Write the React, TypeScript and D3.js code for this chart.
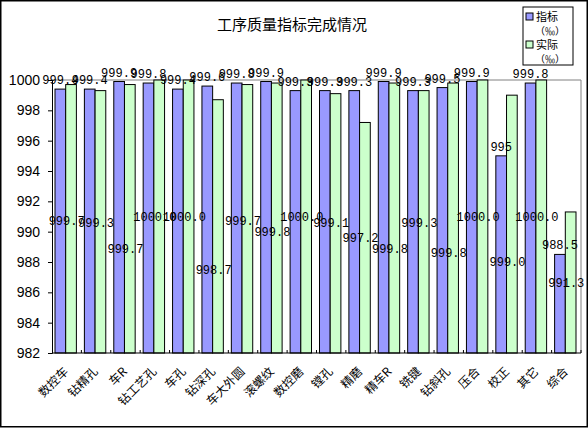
import React, { useEffect, useRef } from 'react';
import * as d3 from 'd3';

// 工序名称
const categories = [
  '数控车', '钻精孔', '车R', '钻工艺孔', '车孔', '钻深孔', '车大外圆', '滚螺纹', '数控磨',
  '镗孔', '精磨', '精车R', '铣键', '钻斜孔', '压合', '校正', '其它', '综合',
];

// 指标 (‰)
const targetValues = [
  999.4, 999.4, 999.9, 999.8, 999.4, 999.6, 999.8, 999.9, 999.3,
  999.3, 999.3, 999.9, 999.3, 999.5, 999.9, 995, 999.8, 988.5,
];

// 实际 (‰)
const actualValues = [
  999.7, 999.3, 999.7, 1000.0, 1000.0, 998.7, 999.7, 999.8, 1000.0,
  999.1, 997.2, 999.8, 999.3, 999.8, 1000.0, 999.0, 1000.0, 991.3,
];

// where the 实际 labels were dragged to in the original sheet, in axis units
const actualLabelAt = [
  990.7, 990.6, 988.9, 991.0, 991.0, 987.5, 990.7, 990.0, 991.0,
  990.6, 989.6, 988.9, 990.6, 988.6, 991.0, 988.0, 991.0, 986.6,
];

const yTicks = [982, 984, 986, 988, 990, 992, 994, 996, 998, 1000];

const seriesNames = ['指标', '实际'];
const seriesColors = ['#9999FF', '#CCFFCC'];

const Chart: React.FC = () => {
  const svgRef = useRef<SVGSVGElement | null>(null);

  useEffect(() => {
    if (!svgRef.current) return;

    const width = 588;
    const height = 429;
    const margin = { top: 80, right: 7, bottom: 76, left: 52 };

    const svg = d3.select(svgRef.current)
      .attr('width', width)
      .attr('height', height)
      .attr('viewBox', `0 0 ${width} ${height}`);

    svg.selectAll('*').remove();

    const x = d3.scaleBand<string>()
      .domain(categories)
      .range([margin.left, width - margin.right]);

    const xInner = d3.scaleBand<string>()
      .domain(seriesNames)
      .range([3, x.bandwidth() - 5]);

    const y = d3.scaleLinear()
      .domain([982, 1000])
      .range([height - margin.bottom, margin.top]);

    // outer frame
    svg.append('rect')
      .attr('x', 0.75).attr('y', 0.75)
      .attr('width', width - 1.5).attr('height', 426)
      .attr('fill', '#fff').attr('stroke', '#000').attr('stroke-width', 1.5);

    // title
    svg.append('text')
      .attr('x', 292).attr('y', 30)
      .attr('text-anchor', 'middle')
      .attr('font-family', '"Noto Sans CJK SC", sans-serif')
      .attr('font-size', 15)
      .text('工序质量指标完成情况');

    // plot area border (top / right)
    svg.append('path')
      .attr('d', `M${margin.left},${y(1000)}H${width - margin.right}V${y(982)}`)
      .attr('fill', 'none').attr('stroke', '#808080');

    const rows = categories.map((c, i) => ({
      c,
      vals: [targetValues[i], actualValues[i]],
    }));

    // bars
    const groups = svg.append('g').selectAll('g')
      .data(rows)
      .join('g')
      .attr('transform', d => `translate(${x(d.c)},0)`);

    groups.selectAll('rect')
      .data(d => d.vals.map((v, k) => ({ v, k })))
      .join('rect')
      .attr('x', d => xInner(seriesNames[d.k])!)
      .attr('y', d => y(d.v))
      .attr('width', xInner.bandwidth())
      .attr('height', d => y(982) - y(d.v))
      .attr('fill', d => seriesColors[d.k])
      .attr('stroke', '#000')
      .attr('stroke-width', 1);

    // axes
    const yAxis = svg.append('g')
      .attr('transform', `translate(${margin.left},0)`)
      .call(d3.axisLeft(y).tickValues(yTicks).tickSize(4).tickFormat(d3.format('d')));
    yAxis.select('.domain').attr('stroke', '#000');
    yAxis.selectAll('text')
      .attr('font-family', '"Liberation Sans", Arial, sans-serif')
      .attr('font-size', 14)
      .attr('fill', '#000')
      .attr('x', -12);

    const xAxis = svg.append('g')
      .attr('transform', `translate(0,${y(982)})`);
    xAxis.append('line')
      .attr('x1', margin.left).attr('x2', width - margin.right)
      .attr('stroke', '#000');
    xAxis.selectAll('line.tick')
      .data(categories)
      .join('line')
      .attr('class', 'tick')
      .attr('x1', d => x(d)! + x.step())
      .attr('x2', d => x(d)! + x.step())
      .attr('y1', 0).attr('y2', -3)
      .attr('stroke', '#000');

    // category labels, rotated
    svg.append('g').selectAll('text')
      .data(categories)
      .join('text')
      .attr('transform', d => `translate(${x(d)! + x.bandwidth() / 2 - 4},${y(982) + 13}) rotate(-45)`)
      .attr('text-anchor', 'end')
      .attr('dy', '0.75em')
      .attr('font-family', '"Noto Sans CJK SC", sans-serif')
      .attr('font-size', 12)
      .text(d => d);

    // value labels
    const labelFont = '"Liberation Mono", "DejaVu Sans Mono", monospace';
    svg.append('g').selectAll('text')
      .data(rows)
      .join('text')
      .attr('x', d => x(d.c)! + xInner(seriesNames[0])! + xInner.bandwidth() / 2)
      .attr('y', d => y(d.vals[0]) - 5)
      .attr('text-anchor', 'middle')
      .attr('font-family', labelFont)
      .attr('font-size', 12)
      .text(d => String(d.vals[0]));

    svg.append('g').selectAll('text')
      .data(rows)
      .join('text')
      .attr('x', d => x(d.c)! + x.bandwidth() / 2)
      .attr('y', (_, i) => y(actualLabelAt[i]))
      .attr('dy', '0.35em')
      .attr('text-anchor', 'middle')
      .attr('font-family', labelFont)
      .attr('font-size', 12)
      .text(d => d.vals[1].toFixed(1));

    // legend
    const legend = svg.append('g').attr('transform', 'translate(523,7)');
    legend.append('rect')
      .attr('width', 50).attr('height', 58)
      .attr('fill', '#fff').attr('stroke', '#000');
    seriesNames.forEach((name, k) => {
      const row = legend.append('g').attr('transform', `translate(0,${k * 28})`);
      row.append('rect')
        .attr('x', 3).attr('y', 6).attr('width', 7).attr('height', 7)
        .attr('fill', seriesColors[k]).attr('stroke', '#000');
      row.append('text')
        .attr('x', 13).attr('y', 14)
        .attr('font-family', '"Noto Sans CJK SC", sans-serif')
        .attr('font-size', 11)
        .text(name);
      row.append('text')
        .attr('x', 12).attr('y', 28)
        .attr('font-family', '"Noto Sans CJK SC", sans-serif')
        .attr('font-size', 10)
        .text('（‰）');
    });
  }, []);

  return <svg ref={svgRef} style={{ position: 'absolute', left: 0, top: 0 }}></svg>;
};

export default function App() {
  return <Chart />;
}
